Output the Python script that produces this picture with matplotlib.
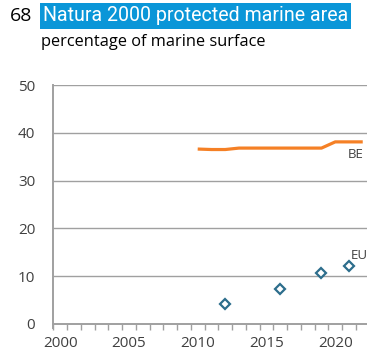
import numpy as np
import matplotlib
matplotlib.use("Agg")
import matplotlib.pyplot as plt
from matplotlib.ticker import FixedLocator

# data
be_years = [2010, 2011, 2012, 2013, 2014, 2015, 2016, 2017, 2018, 2019, 2020, 2021, 2022]
be_values = [36.6, 36.5, 36.5, 36.8, 36.8, 36.8, 36.8, 36.8, 36.8, 36.8, 38.1, 38.1, 38.1]
eu_years = [2012, 2016, 2019, 2021]
eu_values = [4.2, 7.3, 10.6, 12.1]
yticks = [0, 10, 20, 30, 40, 50]
xticks = [2000, 2005, 2010, 2015, 2020]

plt.rcParams['font.family'] = ['Open Sans', 'DejaVu Sans']
txt = '#404040'
grid_c = '#a0a0a0'

fig = plt.figure(figsize=(3.67, 3.53), dpi=100)
ax = fig.add_axes([0.1452, 0.0822, 0.8548, 0.677])

ax.plot(be_years, be_values, color='#f58025', lw=2.3, solid_capstyle='butt', zorder=3)
ax.plot(eu_years, eu_values, ls='none', marker='D', ms=5.5, mfc='white',
        mec='#2d6e8c', mew=1.6, zorder=4)

ax.text(2022.1, be_values[-1] - 1.2, 'BE', ha='right', va='top', fontsize=9.5, color=txt)
ax.text(2021.1, eu_values[-1] + 2.3, 'EU', ha='left', va='center', fontsize=9.5, color=txt)

ax.set_xlim(1999.5, 2022.31)
ax.set_ylim(0, 50)
ax.set_yticks(yticks)
ax.xaxis.set_major_locator(FixedLocator(xticks))
ax.xaxis.set_minor_locator(FixedLocator(np.arange(1999.5, 2023, 1)))
ax.tick_params(axis='x', which='major', length=0, pad=9, labelsize=11, labelcolor=txt)
ax.tick_params(axis='x', which='minor', length=4, width=1, color=grid_c, direction='out')
ax.tick_params(axis='y', length=0, pad=13, labelsize=11, labelcolor=txt)

ax.grid(axis='y', color=grid_c, lw=1.0)
ax.set_axisbelow(True)
for s in ['top', 'right']:
    ax.spines[s].set_visible(False)
for s in ['left', 'bottom']:
    ax.spines[s].set_color(grid_c)
    ax.spines[s].set_linewidth(1.4)
ax.spines['left'].set_bounds(-0.8, 50)

fig.text(0.027, 0.955, '68', fontsize=14, color='black', va='center', ha='left')
fig.text(0.117, 0.955, 'Natura 2000 protected marine area', fontsize=14.1, color='white',
         va='center', ha='left', family=['Roboto', 'DejaVu Sans'],
         bbox=dict(boxstyle='square,pad=0.16', fc='#0a96d8', ec='none'))
fig.text(0.112, 0.88, 'percentage of marine surface', fontsize=11.8, color='black',
         va='center', ha='left')

fig.savefig('out.png', dpi=100)
